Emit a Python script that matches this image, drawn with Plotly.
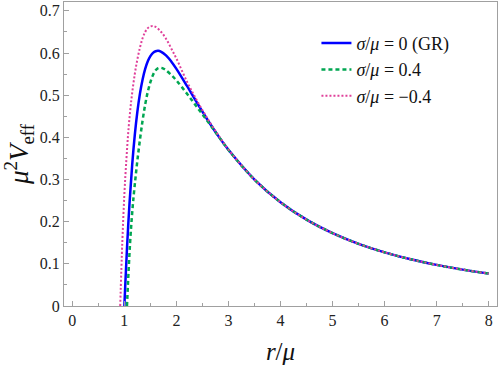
import plotly.graph_objects as go

# GR curve (sigma/mu = 0)
r_gr = [1.0, 1.02, 1.05, 1.1, 1.15, 1.2, 1.25, 1.3, 1.35, 1.4, 1.45, 1.5, 1.55, 1.6, 1.65,
        1.7, 1.8, 1.9, 2.0, 2.2, 2.4, 2.6, 2.8, 3.0, 3.5, 4.0, 4.5, 5.0, 5.5, 6.0, 6.5, 7.0, 7.5, 8.0]
v_gr = [0.0, 0.0576, 0.1357, 0.2459, 0.3345, 0.4051, 0.4608, 0.5042, 0.5374, 0.5623, 0.5803,
        0.5926, 0.6003, 0.6042, 0.6051, 0.6034, 0.5944, 0.5801, 0.5625, 0.5225, 0.4810, 0.4412,
        0.4041, 0.3704, 0.2999, 0.2461, 0.2048, 0.1728, 0.1475, 0.1273, 0.1109, 0.0975, 0.0863, 0.0769]

# sigma/mu = 0.4
r_pos = [1.05, 1.08, 1.11, 1.14, 1.17, 1.21, 1.25, 1.30, 1.35, 1.40, 1.45, 1.50, 1.55, 1.60, 1.65,
         1.70, 1.75, 1.8, 1.9, 2.0, 2.2, 2.4, 2.6, 2.8, 3.0, 3.5, 4.0, 4.5, 5.0, 5.5, 6.0, 6.5, 7.0, 7.5, 8.0]
v_pos = [0.0, 0.08, 0.15, 0.205, 0.25, 0.30, 0.345, 0.395, 0.44, 0.478, 0.508, 0.531, 0.548, 0.559,
         0.564, 0.565, 0.563, 0.559, 0.548, 0.535, 0.504, 0.471, 0.438, 0.404, 0.370, 0.2999, 0.2461,
         0.2048, 0.1728, 0.1475, 0.1273, 0.1109, 0.0975, 0.0863, 0.0769]

# sigma/mu = -0.4
r_neg = [0.92, 0.96, 1.0, 1.04, 1.08, 1.135, 1.2, 1.25, 1.3, 1.35, 1.4, 1.45, 1.5, 1.55, 1.6, 1.7,
         1.8, 1.9, 2.0, 2.2, 2.4, 2.6, 2.8, 3.0, 3.5, 4.0, 4.5, 5.0, 5.5, 6.0, 6.5, 7.0, 7.5, 8.0]
v_neg = [0.0, 0.15, 0.265, 0.35, 0.42, 0.49, 0.55, 0.585, 0.613, 0.635, 0.650, 0.659, 0.663, 0.664,
         0.662, 0.651, 0.634, 0.611, 0.587, 0.533, 0.486, 0.444, 0.406, 0.371, 0.2999, 0.2461,
         0.2048, 0.1728, 0.1475, 0.1273, 0.1109, 0.0975, 0.0863, 0.0769]

x_ticks = [0, 1, 2, 3, 4, 5, 6, 7, 8]
y_ticks = [0, 0.1, 0.2, 0.3, 0.4, 0.5, 0.6, 0.7]
y_tick_labels = ["0", "0.1", "0.2", "0.3", "0.4", "0.5", "0.6", "0.7"]

names = ["<i>σ</i>/<i>μ</i> = 0 (GR)", "<i>σ</i>/<i>μ</i> = 0.4", "<i>σ</i>/<i>μ</i> = −0.4"]

FONT = "Liberation Serif"

fig = go.Figure()
fig.add_trace(go.Scatter(x=r_gr, y=v_gr, mode="lines", name=names[0],
                         line=dict(color="#0000ff", width=2.5, shape="spline")))
fig.add_trace(go.Scatter(x=r_pos, y=v_pos, mode="lines", name=names[1],
                         line=dict(color="#00a651", width=2.5, dash="4px,3px", shape="spline")))
fig.add_trace(go.Scatter(x=r_neg, y=v_neg, mode="lines", name=names[2],
                         line=dict(color="#e0409a", width=2, dash="2px,2px", shape="spline")))

axis_common = dict(showline=True, mirror=True, linecolor="#a0a0a0", linewidth=1,
                   ticks="inside", ticklen=5, tickcolor="#a0a0a0", showgrid=False, zeroline=False,
                   tickfont=dict(family=FONT, size=16, color="#222"))

fig.update_layout(
    width=498, height=371,
    margin=dict(l=64, r=1, t=2, b=65),
    plot_bgcolor="white", paper_bgcolor="white",
    font=dict(family=FONT, color="#111"),
    showlegend=True,
    legend=dict(x=0.583, y=0.925, xanchor="left", yanchor="top", bgcolor="rgba(0,0,0,0)",
                font=dict(family=FONT, size=18, color="#111"), itemwidth=30),
    xaxis=dict(range=[-0.16, 8.16], tickvals=x_ticks,
               minor=dict(dtick=0.5, ticks="inside", ticklen=3, tickcolor="#a0a0a0"),
               title=dict(text="<i>r</i>/<i>μ</i>", font=dict(family=FONT, size=25), standoff=14),
               **axis_common),
    yaxis=dict(range=[0, 0.721], tickvals=y_ticks, ticktext=y_tick_labels,
               minor=dict(dtick=0.05, ticks="inside", ticklen=3, tickcolor="#a0a0a0"),
               title=dict(text="<i>μ</i><sup>2</sup><i>V</i><sub>eff</sub>", font=dict(family=FONT, size=27), standoff=8),
               **axis_common),
)

fig.write_html("out.html", post_script="document.body.style.margin='0';",
               config={"displayModeBar": False})
